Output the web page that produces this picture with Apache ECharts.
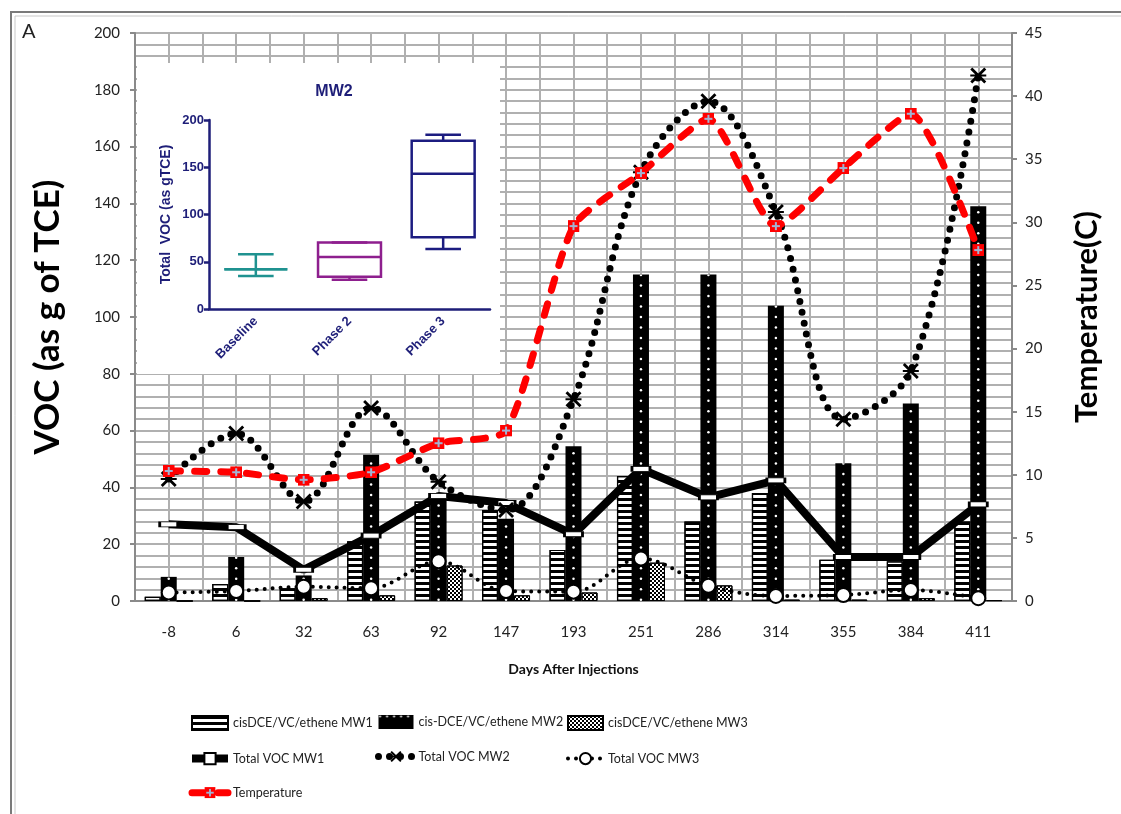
<!DOCTYPE html>
<html>
<head>
<meta charset="utf-8">
<script src="https://cdn.jsdelivr.net/npm/echarts@6/dist/echarts.min.js"></script>
<style>
  html, body { margin: 0; padding: 0; background: #fff; }
  #chart { width: 1121px; height: 814px; }
</style>
</head>
<body>
<div id="chart"></div>
<script>
// x categories: days after injections
const days = ['-8', '6', '32', '63', '92', '147', '193', '251', '286', '314', '355', '384', '411'];

// bars (VOC as g of TCE)
const cisMW1 = [1.5, 6, 4.5, 21, 35, 32, 18, 44, 28, 38, 14.5, 14, 28];
const cisMW2 = [8.5, 15.5, 9, 51.5, 38, 29, 54.5, 115, 115, 104, 48.5, 69.5, 139];
const cisMW3 = [0, 0, 1, 2, 12.5, 2, 3, 13.5, 5.5, 0.5, 0.5, 1, 0.3];

// lines
const totalMW1 = [27, 26, 11, 23, 37, 34.5, 23.5, 46.5, 36.5, 42.5, 15.5, 15.5, 34];
const totalMW2 = [43, 59, 35, 68, 42, 32, 71, 151, 176, 137, 64, 81, 185];
const totalMW3 = [3, 3.5, 5, 4.5, 14, 3.5, 3.3, 15, 5.4, 1.8, 2.1, 3.9, 1];
const temperature = [10.3, 10.2, 9.6, 10.2, 12.5, 13.5, 29.7, 33.9, 38.2, 29.7, 34.3, 38.6, 27.8];

// inset box plot, MW2 total VOC
const insetCats = ['Baseline', 'Phase 2', 'Phase 3'];
const insetMin = [35, 31, 63.5];
const insetQ1 = [42, 34, 76];
const insetMedian = [42, 55, 143];
const insetQ3 = [42, 70.5, 178];
const insetMax = [58, 70.5, 184.5];

const navy = '#1e1e78';
const boxColors = ['#1f9290', '#8e1f8e', '#1c1c80'];
const gridGrey = '#b0b0b0';
const font = 'Lato';

const tempSvg = "<svg xmlns='http://www.w3.org/2000/svg' width='12' height='12'>" +
  "<rect width='12' height='12' fill='#ff0000'/>" +
  "<rect x='5' y='2' width='2' height='8' fill='#a3b3d3'/>" +
  "<rect x='2' y='5' width='8' height='2' fill='#a3b3d3'/></svg>";
const tempSymbol = 'image://data:image/svg+xml;charset=utf-8,' + encodeURIComponent(tempSvg);
const xSymbol = 'path://M0,2L2,0L8,6L14,0L16,2L10,8L16,14L14,16L8,10L2,16L0,14L6,8Z M0,7L16,7L16,9L0,9Z';

const legendText = { fontFamily: font, fontSize: 12.5, color: '#222' };
const legendBase = { orient: 'vertical', top: 715, padding: 0, itemWidth: 36, itemHeight: 14, itemGap: 21,
  textStyle: legendText, lineStyle: { width: 'inherit' } };

const chart = echarts.init(document.getElementById('chart'));

chart.setOption({
  animation: false,
  backgroundColor: '#fff',
  textStyle: { fontFamily: font },
  graphic: [
    { type: 'rect', shape: { x: 11, y: 12, width: 1140, height: 840 },
      style: { fill: 'none', stroke: '#7a7a7a', lineWidth: 2 }, z: 0 },
    { type: 'rect', shape: { x: 15, y: 16, width: 1140, height: 840 },
      style: { fill: 'none', stroke: '#c8c8c8', lineWidth: 1 }, z: 0 },
    { type: 'rect', shape: { x: 137, y: 63, width: 363, height: 311 },
      style: { fill: '#fff' }, z: 1 },
    { type: 'text', x: 22, y: 22,
      style: { text: 'A', font: '20px Lato', fill: '#222' }, z: 5 },
    { type: 'text', x: 334, y: 84,
      style: { text: 'MW2', font: 'bold 16px "Liberation Sans"', fill: navy, align: 'center', textAlign: 'center' }, z: 5 }
  ],
  legend: [
    Object.assign({}, legendBase, { left: 188,
      data: [{ name: 'cisDCE/VC/ethene MW1', icon: 'rect' }, 'Total VOC MW1', 'Temperature'] }),
    Object.assign({}, legendBase, { left: 375, itemWidth: 35,
      data: [{ name: 'cis-DCE/VC/ethene MW2', icon: 'rect',
        itemStyle: { decal: { symbol: 'circle', symbolSize: 0.7, color: '#fff', dashArrayX: [3, 4], dashArrayY: [3, 11] } } },
        'Total VOC MW2'] }),
    Object.assign({}, legendBase, { left: 566, itemWidth: 35,
      data: [{ name: 'cisDCE/VC/ethene MW3', icon: 'rect' }, 'Total VOC MW3'] })
  ],
  grid: [
    { left: 135, right: 109, top: 33, bottom: 213 },
    { left: 209, top: 120, width: 281, height: 189 }
  ],
  xAxis: [
    {
      type: 'category', gridIndex: 0, data: days,
      name: 'Days After Injections', nameLocation: 'middle', nameGap: 61,
      nameTextStyle: { fontFamily: font, fontWeight: 'bold', fontSize: 14, color: '#111' },
      axisLine: { lineStyle: { color: '#8a8a8a', width: 2 } },
      axisTick: { length: 6, lineStyle: { color: '#8a8a8a', width: 2 } },
      axisLabel: { margin: 24, fontFamily: font, fontSize: 15, color: '#222' },
      splitLine: { show: false }
    },
    {
      // half-category vertical grid
      type: 'value', gridIndex: 0, position: 'top', min: 0, max: 13, interval: 0.5,
      axisLine: { show: false }, axisTick: { show: false }, axisLabel: { show: false },
      splitLine: { show: true, lineStyle: { color: gridGrey, width: 2 } }
    },
    {
      type: 'category', gridIndex: 1, data: insetCats, z: 3,
      axisLine: { lineStyle: { color: navy, width: 2.5 } },
      axisTick: { alignWithLabel: true, length: 6, lineStyle: { color: navy, width: 2.5 } },
      axisLabel: { rotate: 45, margin: 10, fontFamily: 'Liberation Sans', fontWeight: 'bold', fontSize: 13, color: navy }
    }
  ],
  yAxis: [
    {
      type: 'value', gridIndex: 0, min: 0, max: 200, interval: 20,
      name: 'VOC (as g of TCE)', nameLocation: 'middle', nameGap: 70, nameRotate: 90,
      nameTextStyle: { fontFamily: font, fontWeight: 'bold', fontSize: 35, color: '#000' },
      axisLine: { show: true, lineStyle: { color: '#8a8a8a', width: 2 } },
      axisTick: { show: true, length: 5, lineStyle: { color: '#8a8a8a', width: 2 } },
      axisLabel: { margin: 15, fontFamily: font, fontSize: 15, color: '#222' },
      splitLine: { show: true, lineStyle: { color: gridGrey, width: 2 } },
      minorTick: { show: false, splitNumber: 5 },
      minorSplitLine: { show: true, lineStyle: { color: gridGrey, width: 2 } }
    },
    {
      type: 'value', gridIndex: 0, position: 'right', min: 0, max: 45, interval: 5,
      name: 'Temperature(C)', nameLocation: 'middle', nameGap: 59, nameRotate: 90,
      nameTextStyle: { fontFamily: font, fontWeight: 'bold', fontSize: 31, color: '#000' },
      axisLine: { show: true, lineStyle: { color: '#8a8a8a', width: 2 } },
      axisTick: { show: true, length: 5, lineStyle: { color: '#8a8a8a', width: 2 } },
      axisLabel: { margin: 13, fontFamily: font, fontSize: 15, color: '#222' },
      splitLine: { show: false }
    },
    {
      type: 'value', gridIndex: 1, min: 0, max: 200, interval: 50, z: 3,
      name: 'Total  VOC (as gTCE)', nameLocation: 'middle', nameGap: 36, nameRotate: 90,
      nameTextStyle: { fontFamily: 'Liberation Sans', fontWeight: 'bold', fontSize: 14, color: navy },
      axisLine: { show: true, lineStyle: { color: navy, width: 2.5 } },
      axisTick: { show: true, length: 5, lineStyle: { color: navy, width: 2.5 } },
      axisLabel: { margin: 5, fontFamily: 'Liberation Sans', fontWeight: 'bold', fontSize: 13, color: navy },
      splitLine: { show: false }
    }
  ],
  series: [
    {
      name: 'cisDCE/VC/ethene MW1', type: 'bar', xAxisIndex: 0, yAxisIndex: 0,
      barWidth: 16, barGap: '0%', z: 2, data: cisMW1,
      itemStyle: {
        color: '#fff', borderColor: '#000', borderWidth: 1.2,
        decal: { symbol: 'rect', symbolSize: 1, color: '#000', dashArrayX: [1, 0], dashArrayY: [3, 3], rotation: 0 }
      }
    },
    {
      name: 'cis-DCE/VC/ethene MW2', type: 'bar', xAxisIndex: 0, yAxisIndex: 0,
      barWidth: 16, barGap: '0%', z: 2, data: cisMW2,
      itemStyle: { color: '#000' }
    },
    {
      name: 'cisDCE/VC/ethene MW3', type: 'bar', xAxisIndex: 0, yAxisIndex: 0,
      barWidth: 16, barGap: '0%', z: 2, data: cisMW3,
      itemStyle: {
        color: '#fff', borderColor: '#000', borderWidth: 1,
        decal: { symbol: 'rect', symbolSize: 1, color: '#000', dashArrayX: [[2, 2], [0, 2, 2, 0]], dashArrayY: [2, 0], rotation: 0 }
      }
    },
    {
      // white dots on the MW2 bars
      name: 'MW2 dots', type: 'pictorialBar', xAxisIndex: 0, yAxisIndex: 0,
      symbol: 'circle', symbolSize: [2.5, 2.5], symbolRepeat: true, symbolMargin: 4,
      symbolClip: true, z: 3, silent: true, data: cisMW2,
      itemStyle: { color: '#fff' }
    },
    {
      name: 'Total VOC MW1', type: 'line', xAxisIndex: 0, yAxisIndex: 0, z: 5,
      data: totalMW1, symbol: 'rect', symbolSize: [18, 5],
      lineStyle: { color: '#000', width: 8 },
      itemStyle: { color: '#fff', borderColor: '#000', borderWidth: 1.5 }
    },
    {
      name: 'Total VOC MW2', type: 'line', xAxisIndex: 0, yAxisIndex: 0, z: 5,
      data: totalMW2, smooth: 0.35, symbol: xSymbol, symbolSize: 16,
      lineStyle: { color: '#000', width: 7, type: [0, 11], cap: 'round' },
      itemStyle: { color: '#000' }
    },
    {
      name: 'Total VOC MW3', type: 'line', xAxisIndex: 0, yAxisIndex: 0, z: 5,
      data: totalMW3, smooth: 0.35, symbol: 'circle', symbolSize: 14,
      lineStyle: { color: '#000', width: 4, type: [0, 8], cap: 'round' },
      itemStyle: { color: '#fff', borderColor: '#000', borderWidth: 2 }
    },
    {
      name: 'Temperature', type: 'line', xAxisIndex: 0, yAxisIndex: 1, z: 6,
      data: temperature, smooth: 0.2, symbol: tempSymbol, symbolSize: 12,
      lineStyle: { color: '#ff0000', width: 7, type: [12, 14], cap: 'round' },
      itemStyle: { color: '#ff0000' }
    },
    {
      name: 'MW2 box', type: 'custom', xAxisIndex: 2, yAxisIndex: 2, z: 6, silent: true,
      data: insetCats.map((c, i) => [i, insetMin[i], insetQ1[i], insetMedian[i], insetQ3[i], insetMax[i]]),
      encode: { x: 0, y: [1, 2, 3, 4, 5] },
      renderItem: function (params, api) {
        const idx = api.value(0);
        const pMin = api.coord([idx, api.value(1)]);
        const pQ1 = api.coord([idx, api.value(2)]);
        const pMed = api.coord([idx, api.value(3)]);
        const pQ3 = api.coord([idx, api.value(4)]);
        const pMax = api.coord([idx, api.value(5)]);
        const band = api.size([1, 0])[0];
        const bw = band * 0.336, cw = band * 0.19;
        const x = pMed[0];
        const style = { stroke: boxColors[idx], lineWidth: 2.5, fill: null };
        return {
          type: 'group',
          children: [
            { type: 'rect', shape: { x: x - bw, y: pQ3[1], width: bw * 2, height: pQ1[1] - pQ3[1] }, style: style },
            { type: 'line', shape: { x1: x - bw, y1: pMed[1], x2: x + bw, y2: pMed[1] }, style: style },
            { type: 'line', shape: { x1: x, y1: pQ3[1], x2: x, y2: pMax[1] }, style: style },
            { type: 'line', shape: { x1: x, y1: pQ1[1], x2: x, y2: pMin[1] }, style: style },
            { type: 'line', shape: { x1: x - cw, y1: pMax[1], x2: x + cw, y2: pMax[1] }, style: style },
            { type: 'line', shape: { x1: x - cw, y1: pMin[1], x2: x + cw, y2: pMin[1] }, style: style }
          ]
        };
      }
    }
  ]
});
</script>
</body>
</html>
